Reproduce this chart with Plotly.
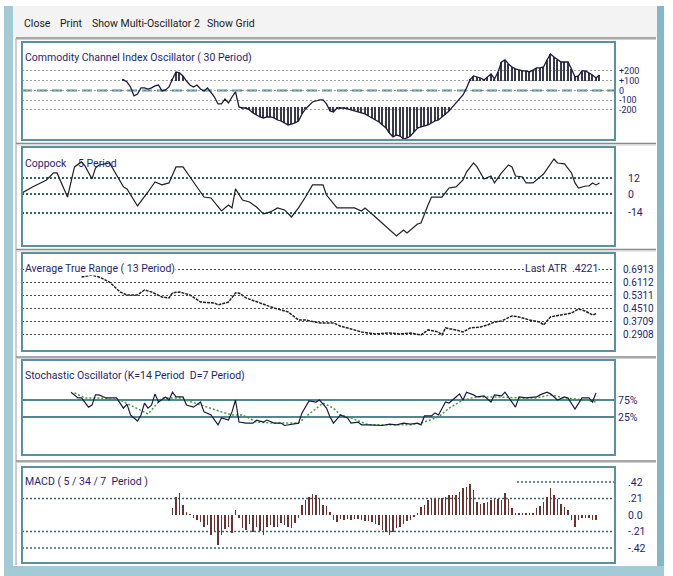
import plotly.graph_objects as go

W, H = 673, 576

# ------------------------------------------------------------------ data
# bar index = trading day; every panel shares the same bar axis
cci_start = 29
cci = [108, 87, 36, -56, -36, 26, 26, 15, 26, 46, 56, -5, 5, 36, 118, 190, 180, 149, 97, 56,
       36, 56, 15, -5, 26, -15, -67, -138, -138, -87, -128, -67, -15, -169, -180, -180, -200,
       -231, -251, -272, -282, -272, -272, -282, -303, -313, -333, -354, -344, -333, -313, -241,
       -190, -149, -118, -108, -97, -97, -138, -210, -221, -180, -180, -180, -190, -200, -210,
       -221, -231, -241, -262, -282, -303, -323, -354, -385, -436, -477, -457, -467, -498, -487,
       -467, -426, -385, -374, -364, -354, -333, -313, -303, -272, -251, -210, -169, -128, -77,
       -46, 26, 108, 149, 139, 128, 108, 139, 169, 118, 190, 292, 313, 272, 241, 221, 210, 200,
       200, 190, 210, 231, 231, 241, 313, 374, 344, 313, 292, 292, 292, 221, 139, 149, 200, 200,
       180, 159, 128, 159]
cci_levels = [200, 100, 0, -100, -200]
cci_labels = ["+200", "+100", "0", "-100", "-200"]

cop_x = [0, 3, 7, 9, 10, 13, 15, 17, 18, 20, 21, 22, 25, 27, 29, 30, 33, 36, 38, 40, 42, 44, 46,
         49, 52, 54, 57, 59, 60, 61, 63, 65, 67, 69, 71, 73, 75, 77, 79, 81, 83, 86, 87, 90, 95,
         97, 98, 100, 103, 107, 109, 110, 113, 114, 116, 117, 120, 122, 124, 126, 127, 129, 130,
         132, 134, 135, 137, 139, 140, 141, 143, 144, 146, 148, 149, 152, 153, 155, 157, 158,
         159, 161, 162, 163, 164, 165]
cop_y = [0.8, 5.3, 10.5, 15.8, 15.8, -2.3, 20.3, 24.1, 21.1, 11.3, 19.5, 21.8, 23.3, 14.3, 5.3,
         3.8, -9.0, 1.5, 9.0, 6.8, 8.3, 20.3, 20.3, 9.0, -2.3, -3.0, -12.8, -8.3, -10.5, 3.8,
         -4.5, -6.0, -9.8, -15.0, -13.5, -10.5, -12.0, -17.3, -10.5, -2.3, 6.8, 6.8, -0.8, -10.5,
         -10.5, -12.8, -10.5, -15.0, -21.8, -31.6, -27.1, -29.3, -22.6, -21.8, -8.3, -2.3, -2.3,
         4.5, 5.3, 10.5, 16.5, 23.3, 20.3, 11.3, 13.5, 8.3, 15.8, 21.8, 20.3, 13.5, 12.8, 8.3,
         8.3, 12.8, 15.0, 26.3, 23.3, 22.6, 15.8, 8.3, 4.5, 6.0, 6.0, 8.3, 6.8, 8.3]
cop_levels = [12, 0, -14]

atr_x = [17, 20, 22, 25, 28, 30, 33, 35, 37, 40, 42, 43, 45, 48, 51, 55, 56, 59, 61, 62, 64, 68,
         72, 76, 79, 81, 85, 89, 91, 94, 97, 101, 105, 108, 111, 114, 116, 119, 120, 121, 124,
         126, 128, 131, 133, 135, 137, 140, 142, 145, 148, 149, 151, 154, 157, 159, 161, 163, 164]
atr_y = [0.648, 0.660, 0.648, 0.617, 0.556, 0.537, 0.537, 0.568, 0.556, 0.525, 0.519, 0.550,
         0.556, 0.537, 0.494, 0.488, 0.476, 0.494, 0.550, 0.550, 0.519, 0.488, 0.457, 0.433,
         0.383, 0.383, 0.365, 0.365, 0.345, 0.328, 0.309, 0.297, 0.303, 0.297, 0.303, 0.291,
         0.322, 0.309, 0.291, 0.334, 0.322, 0.309, 0.334, 0.340, 0.352, 0.371, 0.377, 0.408,
         0.402, 0.383, 0.371, 0.352, 0.402, 0.414, 0.426, 0.451, 0.438, 0.414, 0.4221]
atr_levels = [0.6913, 0.6112, 0.5311, 0.4510, 0.3709, 0.2908]
atr_last = ".4221"

k_x = [14, 16, 17, 19, 20, 21, 22, 24, 27, 28, 29, 30, 31, 33, 34, 35, 36, 37, 38, 39, 41, 42,
       43, 44, 46, 47, 49, 51, 52, 54, 56, 57, 59, 60, 61, 62, 64, 66, 67, 69, 70, 72, 74, 75,
       77, 79, 80, 81, 82, 84, 85, 87, 88, 89, 91, 93, 94, 96, 97, 99, 101, 103, 105, 107, 109,
       111, 113, 114, 115, 117, 118, 119, 121, 122, 124, 125, 126, 127, 129, 130, 132, 134, 135,
       137, 138, 139, 141, 142, 144, 147, 148, 150, 151, 153, 155, 156, 158, 160, 162, 163, 164]
k_y = [98, 81, 81, 54, 60, 90, 90, 81, 81, 66, 51, 63, 31, 13, 31, 66, 51, 60, 93, 69, 84, 75,
       98, 84, 84, 60, 54, 69, 40, 31, 2, 22, 16, 40, 75, 10, 7, 7, 16, 10, 16, 7, 7, 0, 4, 7, 37,
       54, 72, 69, 75, 51, 25, 7, 31, 22, 7, 10, 2, 2, 0, 0, 4, 2, 7, 4, 7, 2, 28, 28, 37, 31, 69,
       66, 84, 93, 75, 98, 90, 84, 87, 69, 90, 87, 98, 84, 54, 84, 81, 84, 90, 98, 93, 75, 84,
       81, 48, 81, 81, 69, 96]
d_x = [15, 18, 22, 28, 36, 40, 45, 51, 57, 60, 63, 67, 72, 79, 81, 86, 89, 91, 94, 99, 111, 114,
       119, 122, 126, 130, 136, 142, 147, 151, 155, 161, 164]
d_y = [96, 81, 81, 75, 34, 81, 81, 60, 40, 31, 31, 10, 7, 7, 25, 66, 51, 31, 22, 2, 2, 7, 25,
       51, 75, 84, 84, 81, 81, 90, 81, 75, 69]
stoch_levels = [75, 25]

macd_start = 43
macd = [0.09, 0.23, 0.28, 0.13, 0.04, 0.01, -0.04, -0.06, -0.09, -0.15, -0.13, -0.25, -0.20,
        -0.38, -0.25, -0.18, -0.15, -0.23, 0.06, -0.04, -0.17, -0.19, -0.12, -0.22, -0.15,
        -0.20, -0.25, -0.15, -0.13, -0.15, -0.15, -0.10, -0.13, -0.15, -0.17, -0.10, -0.04,
        0.13, 0.19, 0.23, 0.27, 0.25, 0.21, 0.13, 0.11, 0.04, -0.06, -0.09, -0.05, -0.06, -0.05,
        -0.06, -0.05, -0.05, -0.06, -0.07, -0.07, -0.09, -0.11, -0.13, -0.19, -0.22, -0.25,
        -0.21, -0.17, -0.15, -0.12, -0.08, -0.06, -0.02, 0.02, 0.10, 0.13, 0.19, 0.21, 0.21,
        0.21, 0.22, 0.23, 0.25, 0.26, 0.25, 0.29, 0.34, 0.36, 0.39, 0.32, 0.17, 0.14, 0.15,
        0.17, 0.19, 0.21, 0.21, 0.19, 0.28, 0.21, 0.09, 0.02, 0.02, 0.02, 0.02, 0.02, 0.03,
        0.09, 0.11, 0.17, 0.23, 0.34, 0.25, 0.21, 0.14, 0.10, 0.06, -0.06, -0.15, -0.06, -0.04,
        -0.04, -0.04, -0.06, -0.06]
macd_levels = [0.42, 0.21, 0.0, -0.21, -0.42]
macd_labels = [".42", ".21", "0.0", "-.21", "-.42"]

toolbar_items = ["Close", "Print", "Show Multi-Oscillator 2", "Show Grid"]

# ------------------------------------------------------------------ styling
NARROW = "Roboto, Liberation Sans, sans-serif"
NAVY = "#1f1f6e"
LINE = "#1b1b3c"
TEAL = "#5a919c"

panels = [(42, 140), (147, 246), (253, 351), (360, 455), (467, 563)]  # top,bottom px
X0, X1 = 22, 615
PX_PER_BAR = 3.5
xr = [0, (X1 - X0) / PX_PER_BAR]
yranges = [[-508, 497], [-39.1, 35.3], [0.192, 0.796], [-86.8, 192.6], [-0.611, 0.611]]


def xp(px):
    return px / W


def yp(px):
    return 1 - px / H


fig = go.Figure()

# CCI histogram (beyond +100 / -170) and line
cci_x = list(range(cci_start, cci_start + len(cci)))
hb_x, hb_y, hb_base = [], [], []
for xi, v in zip(cci_x, cci):
    if v > 100:
        hb_x.append(xi); hb_base.append(100); hb_y.append(v - 100)
    elif v < -170:
        hb_x.append(xi); hb_base.append(-170); hb_y.append(v + 170)
fig.add_trace(go.Bar(x=hb_x, y=hb_y, base=hb_base, width=0.3, marker=dict(color="#3a3a4a", line_width=0),
                     xaxis="x", yaxis="y", showlegend=False))
fig.add_trace(go.Scatter(x=cci_x, y=cci, mode="lines", line=dict(color=LINE, width=1.3),
                         xaxis="x", yaxis="y", showlegend=False))

# Coppock
fig.add_trace(go.Scatter(x=cop_x, y=cop_y, mode="lines", line=dict(color="#202020", width=1.2),
                         xaxis="x2", yaxis="y2", showlegend=False))

# ATR
fig.add_trace(go.Scatter(x=atr_x, y=atr_y, mode="lines", line=dict(color="#202020", width=1.5, dash="3px,1px"),
                         xaxis="x3", yaxis="y3", showlegend=False))

# Stochastic
fig.add_trace(go.Scatter(x=d_x, y=d_y, mode="lines", line=dict(color="#3f9a3f", width=1.5, dash="2px,2px"),
                         xaxis="x4", yaxis="y4", showlegend=False))
fig.add_trace(go.Scatter(x=k_x, y=k_y, mode="lines", line=dict(color=LINE, width=1.2),
                         xaxis="x4", yaxis="y4", showlegend=False))

# MACD histogram
macd_x = list(range(macd_start, macd_start + len(macd)))
fig.add_trace(go.Bar(x=macd_x, y=macd, width=0.28, marker=dict(color="#6b3232", line_width=0),
                     xaxis="x5", yaxis="y5", showlegend=False))

# ------------------------------------------------------------------ axes
tickfont = dict(family=NARROW, size=10.5, color=NAVY)
axis_cfg = [
    dict(tickvals=cci_levels, ticktext=cci_labels, showgrid=True, gridcolor="#a3a3a3",
         griddash="2px,2px", gridwidth=1, ticklabelstandoff=3, tickfont=dict(family=NARROW, size=9, color=NAVY)),
    dict(tickvals=cop_levels, ticktext=[str(v) for v in cop_levels], showgrid=True,
         gridcolor="#33626c", griddash="2px,2px", gridwidth=1.5, ticklabelstandoff=12, tickfont=tickfont),
    dict(tickvals=atr_levels, ticktext=["%.4f" % v for v in atr_levels], showgrid=True,
         gridcolor="#4a4a4a", griddash="2px,2px", gridwidth=1.3, ticklabelstandoff=7,
         tickfont=dict(family=NARROW, size=10, color=NAVY)),
    dict(tickvals=stoch_levels, ticktext=["%d%%" % v for v in stoch_levels], showgrid=True,
         gridcolor="#4f8892", gridwidth=1.5, ticklabelstandoff=2, tickfont=tickfont),
    dict(tickvals=macd_levels, ticktext=macd_labels, showgrid=False, ticklabelstandoff=12, tickfont=tickfont),
]
layout = dict(width=W, height=H, margin=dict(l=0, r=0, t=0, b=0), paper_bgcolor="white",
              plot_bgcolor="rgba(0,0,0,0)", bargap=0, showlegend=False)
for k, ((top, bot), yrng, cfg) in enumerate(zip(panels, yranges, axis_cfg), start=1):
    sfx = "" if k == 1 else str(k)
    layout["xaxis" + sfx] = dict(domain=[xp(X0), xp(X1)], range=xr, anchor="y" + sfx,
                                 showgrid=False, zeroline=False, showticklabels=False, ticks="",
                                 showline=False, fixedrange=True)
    layout["yaxis" + sfx] = dict(domain=[yp(bot), yp(top)], range=yrng, anchor="x" + sfx,
                                 side="right", zeroline=False, ticks="", showline=False,
                                 fixedrange=True, **cfg)
fig.update_layout(**layout)

# ------------------------------------------------------------------ chrome
shapes = []
# toolbar
shapes.append(dict(type="rect", xref="paper", yref="paper", x0=xp(4), x1=xp(664), y0=yp(37), y1=yp(6),
                   fillcolor="#f3f3f3", line_width=0, layer="below"))
# blue frame
shapes.append(dict(type="rect", xref="paper", yref="paper", x0=xp(4), x1=xp(13), y0=yp(576), y1=yp(6),
                   fillcolor="#a2cbd6", line_width=0))
shapes.append(dict(type="rect", xref="paper", yref="paper", x0=xp(657), x1=xp(664), y0=yp(576), y1=yp(6),
                   fillcolor="#86b6c9", line_width=0))
shapes.append(dict(type="rect", xref="paper", yref="paper", x0=xp(4), x1=xp(664), y0=yp(576), y1=yp(566),
                   fillcolor="#a2cbd6", line_width=0))
# inner left grey rule
shapes.append(dict(type="line", xref="paper", yref="paper", x0=xp(16), x1=xp(16), y0=yp(565), y1=yp(38),
                   line=dict(color="#9a9a9a", width=1)))
# separators
for ys in [38, 143.5, 249.5, 357, 461]:
    shapes.append(dict(type="line", xref="paper", yref="paper", x0=xp(16), x1=xp(656), y0=yp(ys), y1=yp(ys),
                       line=dict(color="#8a8a8a", width=1.5)))
    shapes.append(dict(type="line", xref="paper", yref="paper", x0=xp(16), x1=xp(656), y0=yp(ys + 1.5),
                       y1=yp(ys + 1.5), line=dict(color="#d0d0d0", width=1)))
# panel frames
for top, bot in panels:
    shapes.append(dict(type="rect", xref="paper", yref="paper", x0=xp(X0), x1=xp(X1), y0=yp(bot), y1=yp(top),
                       line=dict(color=TEAL, width=2), fillcolor="rgba(0,0,0,0)"))
# CCI zero line (dashed)
shapes.append(dict(type="line", xref="x domain", yref="y", x0=0, x1=1, y0=0, y1=0,
                   line=dict(color="#4f8a95", width=2, dash="10px,5px"), layer="below"))
# MACD dotted levels (the .42 level is drawn only on the right part)
for lv in [0.21, -0.21, -0.42]:
    shapes.append(dict(type="line", xref="x5 domain", yref="y5", x0=0, x1=1, y0=lv, y1=lv,
                       line=dict(color="#36656e", width=1.4, dash="2px,2px"), layer="below"))
shapes.append(dict(type="line", xref="x5 domain", yref="y5", x0=(517 - X0) / (X1 - X0), x1=1, y0=0.42, y1=0.42,
                   line=dict(color="#36656e", width=1.4, dash="2px,2px"), layer="below"))
fig.update_layout(shapes=shapes)

ann = []
# toolbar texts
for txt, xpx in zip(toolbar_items, [22, 58, 90, 205]):
    ann.append(dict(text=txt, x=xp(xpx), y=yp(23), xref="paper", yref="paper", xanchor="left",
                    yanchor="middle", showarrow=False, font=dict(family=NARROW, size=10.5, color="#1a1a1a")))
titles = [
    ("Commodity Channel Index Oscillator ( 30 Period)", 24, 57, None),
    ("Coppock", 24, 163, None),
    ("5 Period", 77, 163, None),
    ("Average True Range ( 13 Period)", 24, 268, "white"),
    ("Stochastic Oscillator (K=14 Period\u00a0 D=7 Period)", 24, 375, None),
    ("MACD ( 5 / 34 / 7\u00a0 Period )", 24, 481, None),
]
for txt, xpx, ypx, bg in titles:
    a = dict(text=txt, x=xp(xpx), y=yp(ypx), xref="paper", yref="paper", xanchor="left", yanchor="middle",
             showarrow=False, font=dict(family=NARROW, size=10.5, color=NAVY), borderpad=0)
    if bg:
        a["bgcolor"] = bg
    ann.append(a)
ann.append(dict(text="Last ATR\u00a0 " + atr_last, x=xp(599), y=yp(268), xref="paper", yref="paper",
                xanchor="right", yanchor="middle", showarrow=False, bgcolor="white", borderpad=0,
                font=dict(family=NARROW, size=10.5, color=NAVY)))
fig.update_layout(annotations=ann)

fig.write_html("out.html", config={"displayModeBar": False},
               post_script="document.body.style.margin='0px';document.body.style.overflow='hidden';")
